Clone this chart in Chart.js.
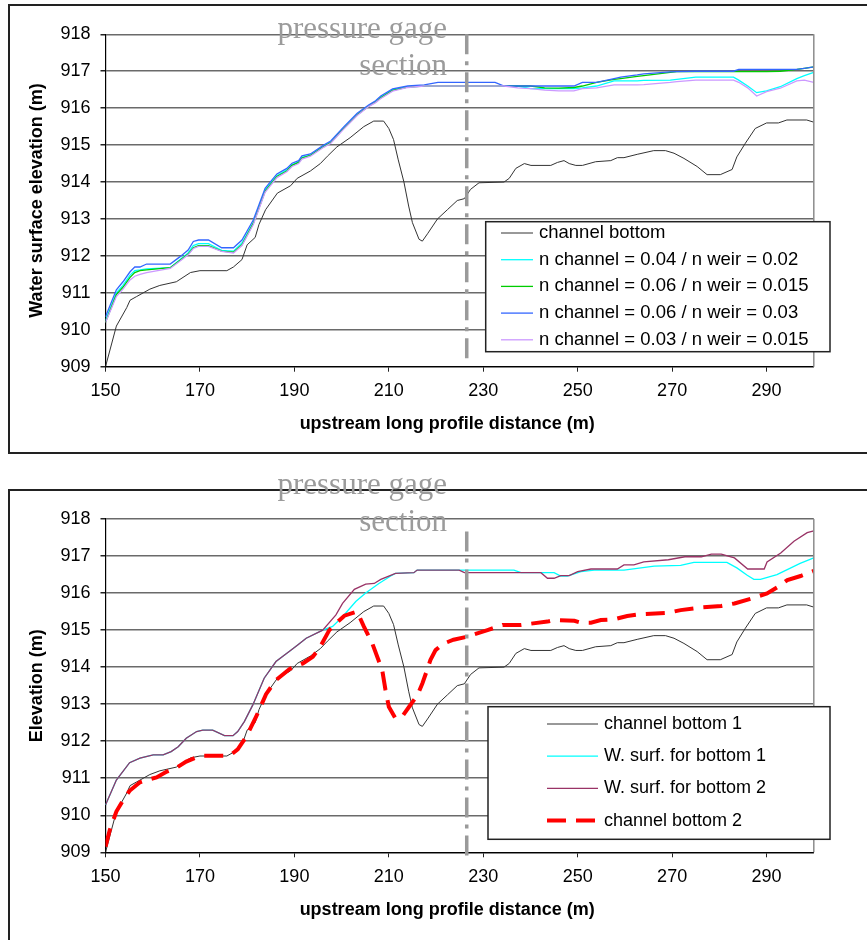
<!DOCTYPE html>
<html>
<head>
  <meta charset="UTF-8">
  <title>Water surface and channel bottom profiles</title>
  <script src="https://cdn.jsdelivr.net/npm/chart.js"></script>
  <style>
    html, body { margin: 0; padding: 0; background: #fff; overflow: hidden; }
    body { width: 867px; height: 940px; position: relative; }
    .frame { position: absolute; left: 8px; width: 900px; border: 2px solid #222; box-sizing: border-box; }
    #frameTop { top: 4px; height: 450px; }
    #frameBottom { top: 489px; height: 500px; }
    canvas { position: absolute; left: 0; }
    #topChart { top: 0; width: 867px; height: 460px; }
    #bottomChart { top: 460px; width: 867px; height: 480px; }
  </style>
</head>
<body>
  <div class="frame" id="frameTop"></div>
  <div class="frame" id="frameBottom"></div>
  <canvas id="topChart" width="867" height="460"></canvas>
  <canvas id="bottomChart" width="867" height="480"></canvas>

  <script>
    // ---- values (distance in m, elevation in m) ----
    const xTicks = [150, 170, 190, 210, 230, 250, 270, 290];
    const gageX = 226.5;
    const gageSpanTop = [918, 909.18];
    const gageSpanBottom = [917.66, 908.87];

    // channel bottom (same profile in both panels)
    const bedX = [150, 152.3, 154.5, 155.2, 156.6, 159.4, 161.5, 165, 168, 170, 175.7, 177.1, 178.9, 180, 181.7, 182.5, 183.9, 186.4, 189.2, 190.6,
      193.4, 195.5, 197, 199, 201.8, 204.7, 206.8, 208.9, 210, 211, 212, 213.2, 214.2, 215, 216.4, 217.1, 218.2, 220.3, 222.4, 224.5,
      226, 227.3, 229.1, 234.4, 235.5, 236.9, 238.7, 240.1, 244.3, 245.7, 247.1, 248.2, 249.6, 251, 253.8, 257, 258.4, 259.8, 262.6, 266.1,
      268.6, 270.4, 272.5, 275.3, 277.4, 280.2, 282.7, 283.7, 285.5, 287.6, 290, 292.5, 294.3, 298.5, 300];
    const bedY = [909.0, 910.1, 910.6, 910.8, 910.9, 911.1, 911.2, 911.3, 911.55, 911.6, 911.6, 911.7, 911.9, 912.3, 912.5, 912.85, 913.25, 913.7, 913.9, 914.1,
      914.3, 914.5, 914.7, 914.95, 915.2, 915.5, 915.65, 915.65, 915.45, 915.15, 914.6, 914.0, 913.35, 912.9, 912.45, 912.4, 912.6, 913.0, 913.25, 913.5,
      913.55, 913.8, 913.98, 914.0, 914.1, 914.37, 914.5, 914.45, 914.45, 914.53, 914.58, 914.5, 914.45, 914.45, 914.55, 914.58, 914.66, 914.66, 914.75, 914.85,
      914.85, 914.78, 914.64, 914.42, 914.2, 914.2, 914.34, 914.68, 915.05, 915.45, 915.6, 915.6, 915.68, 915.68, 915.62];

    // top panel: water surfaces for different roughness values
    const nX = [150, 152.3, 153.7, 155.2, 156.2, 157.3, 158.7, 163.7, 165.8, 167.5, 168.6, 169.7, 171.8, 174.6, 177.1, 178.9, 181.3, 183.8, 186.3, 188.4,
      189.5, 190.9, 191.6, 193.4, 196.2, 197.7, 200.5, 203.3, 205.8, 207.2, 208.3, 210.8, 214, 217.5, 220.4, 224.6, 230, 232.5, 234.4, 237.3,
      240, 243, 246, 249.2, 251, 254, 257.7, 259.1, 262.6, 264, 269.6, 271, 275, 281, 283, 284.1, 286, 287.9, 290, 292.9,
      296.4, 298, 300];
    const n04w02 = [910.25, 911.0, 911.2, 911.48, 911.6, 911.62, 911.65, 911.68, 911.9, 912.08, 912.28, 912.33, 912.33, 912.15, 912.13, 912.35, 912.9, 913.78, 914.17, 914.33,
      914.47, 914.55, 914.67, 914.73, 914.97, 915.08, 915.47, 915.83, 916.07, 916.18, 916.3, 916.5, 916.58, 916.6, 916.6, 916.6, 916.6, 916.6, 916.6, 916.6,
      916.53, 916.53, 916.53, 916.53, 916.55, 916.6, 916.74, 916.74, 916.74, 916.75, 916.76, 916.78, 916.84, 916.84, 916.84, 916.76, 916.6, 916.42, 916.47, 916.58,
      916.8, 916.88, 916.97];
    const n06w015 = [910.2, 910.95, 911.15, 911.42, 911.55, 911.6, 911.62, 911.68, 911.88, 912.05, 912.22, 912.28, 912.28, 912.13, 912.1, 912.3, 912.88, 913.75, 914.15, 914.3,
      914.45, 914.53, 914.65, 914.72, 914.96, 915.07, 915.46, 915.82, 916.06, 916.17, 916.28, 916.48, 916.57, 916.6, 916.6, 916.6, 916.6, 916.6, 916.6, 916.6,
      916.6, 916.55, 916.54, 916.56, 916.6, 916.7, 916.78, 916.8, 916.86, 916.88, 916.97, 916.99, 916.99, 916.99, 916.99, 916.99, 916.99, 916.99, 916.99, 917.0,
      917.05, 917.08, 917.12];
    const n06w03 = [910.35, 911.08, 911.3, 911.57, 911.7, 911.7, 911.78, 911.78, 911.98, 912.16, 912.39, 912.43, 912.43, 912.22, 912.22, 912.43, 912.97, 913.83, 914.22, 914.37,
      914.51, 914.58, 914.71, 914.76, 915.0, 915.11, 915.5, 915.86, 916.09, 916.2, 916.33, 916.52, 916.6, 916.63, 916.7, 916.7, 916.7, 916.7, 916.6, 916.6,
      916.6, 916.6, 916.6, 916.6, 916.7, 916.7, 916.8, 916.84, 916.9, 916.93, 916.98, 916.99, 917.0, 917.0, 917.0, 917.05, 917.05, 917.05, 917.05, 917.05,
      917.05, 917.08, 917.12];
    const n03w015 = [910.2, 910.9, 911.1, 911.35, 911.45, 911.5, 911.55, 911.66, 911.86, 912.03, 912.2, 912.26, 912.26, 912.12, 912.08, 912.28, 912.85, 913.72, 914.12, 914.28,
      914.42, 914.5, 914.62, 914.7, 914.94, 915.05, 915.44, 915.8, 916.05, 916.15, 916.26, 916.46, 916.56, 916.6, 916.6, 916.6, 916.6, 916.6, 916.6, 916.55,
      916.53, 916.49, 916.47, 916.47, 916.53, 916.55, 916.63, 916.63, 916.63, 916.64, 916.7, 916.72, 916.76, 916.76, 916.76, 916.7, 916.55, 916.33, 916.45, 916.54,
      916.74, 916.76, 916.7];

    // bottom panel: water surface for bottom 1
    const surf1X = [150, 152.3, 155.1, 157.3, 160.1, 162.2, 163.9, 165.4, 167.1, 169.3, 170.6, 172.7, 175.2, 177, 178, 179.4, 181.2, 183.6, 186.1, 188.9,
      190.7, 192.5, 196, 198.1, 200.2, 203, 205.1, 207.9, 210.4, 211.4, 215.3, 216, 224.9, 236.5, 238, 245, 246.4, 247.8, 250.7, 253.5,
      259.8, 266.2, 271.8, 274.6, 281.6, 283.7, 285.9, 287.3, 288.7, 292.2, 297.1, 300];
    const surf1Y = [910.28, 910.95, 911.42, 911.54, 911.63, 911.63, 911.72, 911.85, 912.08, 912.26, 912.3, 912.3, 912.15, 912.15, 912.26, 912.53, 912.98, 913.7, 914.15, 914.42,
      914.6, 914.78, 915.0, 915.1, 915.36, 915.77, 916.0, 916.26, 916.46, 916.53, 916.55, 916.62, 916.62, 916.62, 916.55, 916.55, 916.46, 916.46, 916.58, 916.62,
      916.62, 916.73, 916.75, 916.83, 916.83, 916.68, 916.48, 916.37, 916.37, 916.5, 916.8, 916.95];

    // bottom panel: water surface for bottom 2
    const surf2X = [150, 152.3, 155.1, 157.3, 160.1, 162.2, 163.9, 165.4, 167.1, 169.3, 170.6, 172.7, 175.2, 177, 178, 179.4, 181.2, 183.6, 186.1, 188.9,
      190.7, 192.5, 196, 198.8, 200.2, 202.7, 205.1, 206.9, 208.3, 210, 211.4, 215.3, 216, 224.9, 226, 242.2, 243.6, 245, 246.4, 248.2,
      250, 252.8, 258.4, 259.8, 261.9, 264, 269.2, 272.7, 276.2, 278.3, 280.4, 283.2, 286, 289.5, 290.1, 293, 295.8, 298.6, 300];
    const surf2Y = [910.28, 910.95, 911.42, 911.54, 911.63, 911.63, 911.72, 911.85, 912.08, 912.26, 912.3, 912.3, 912.15, 912.15, 912.26, 912.53, 912.98, 913.7, 914.15, 914.42,
      914.6, 914.78, 915.0, 915.41, 915.72, 916.1, 916.24, 916.26, 916.37, 916.46, 916.53, 916.55, 916.62, 916.62, 916.55, 916.55, 916.4, 916.4, 916.47, 916.47,
      916.58, 916.65, 916.65, 916.76, 916.76, 916.84, 916.9, 916.98, 916.98, 917.05, 917.05, 916.95, 916.65, 916.65, 916.84, 917.08, 917.4, 917.63, 917.68];

    // bottom panel: channel bottom 2
    const bed2X = [150, 150.9, 152.3, 153.7, 155.1, 157.3, 158.7, 160.8, 163, 165.1, 167.1, 169.2, 170.6, 176.3, 178, 179.8, 181.9, 184, 186.1, 189,
      191.8, 193.9, 195.3, 197.4, 198.8, 200.6, 203.3, 204.7, 206.5, 208.6, 209.3, 210, 211.4, 212.8, 214.3, 216.1, 217.1, 218.1, 218.8, 219.9,
      221.5, 223.7, 226.5, 230.9, 234.1, 238, 243.6, 245, 249.3, 250.7, 252.8, 254.9, 257.7, 260.5, 263.3, 269.2, 271.8, 276.1, 280.4, 283.2,
      286.7, 290.1, 292.2, 294.4, 297.2, 300];
    const bed2Y = [909.15, 909.6, 910.1, 910.4, 910.66, 910.89, 910.95, 911.02, 911.18, 911.29, 911.45, 911.56, 911.61, 911.61, 911.78, 912.12, 912.66, 913.27, 913.65, 913.95,
      914.1, 914.28, 914.51, 915.0, 915.18, 915.39, 915.5, 915.1, 914.64, 913.92, 913.38, 912.93, 912.62, 912.66, 912.93, 913.25, 913.56, 913.92, 914.19, 914.46,
      914.63, 914.74, 914.82, 915.0, 915.14, 915.14, 915.23, 915.27, 915.25, 915.2, 915.2, 915.27, 915.29, 915.38, 915.43, 915.47, 915.54, 915.61, 915.65, 915.72,
      915.85, 915.99, 916.15, 916.35, 916.46, 916.6];

    const pts = (xs, ys) => xs.map((x, i) => ({ x: x, y: ys[i] }));

    const FONT = 'Liberation Sans';
    // trailing spaces nudge the centred title a little to the left, as in the original
    const X_TITLE = 'upstream long profile distance (m)\u00a0\u00a0\u00a0\u00a0\u00a0';

    // draws the plot's right edge, the "pressure gage section" note and the boxed legend
    const notesPlugin = {
      id: 'notes',
      afterDatasetsDraw(chart) {
        const a = chart.chartArea, ctx = chart.ctx;
        ctx.save();
        ctx.strokeStyle = '#8c8c8c';
        ctx.lineWidth = 1.5;
        ctx.beginPath();
        ctx.moveTo(a.right, a.top);
        ctx.lineTo(a.right, a.bottom);
        ctx.stroke();
        ctx.restore();
      },
      afterDraw(chart, args, o) {
        const ctx = chart.ctx;
        ctx.save();
        ctx.font = '31px "Liberation Serif"';
        ctx.fillStyle = '#9b9b9b';
        ctx.textAlign = 'right';
        ctx.textBaseline = 'alphabetic';
        o.note.lines.forEach((t, i) => ctx.fillText(t, o.note.x, o.note.y + i * o.note.step));

        const L = o.legend;
        ctx.fillStyle = '#fff';
        ctx.fillRect(L.left, L.top, L.right - L.left, L.bottom - L.top);
        ctx.strokeStyle = '#222';
        ctx.lineWidth = 1.5;
        ctx.strokeRect(L.left, L.top, L.right - L.left, L.bottom - L.top);
        L.items.forEach((di, k) => {
          const ds = chart.data.datasets[di];
          const y = L.firstRow + k * L.rowStep;
          ctx.strokeStyle = ds.borderColor;
          ctx.lineWidth = ds.borderWidth;
          ctx.setLineDash(ds.borderDash || []);
          ctx.beginPath();
          ctx.moveTo(L.lineFrom, y);
          ctx.lineTo(L.lineTo, y);
          ctx.stroke();
          ctx.setLineDash([]);
          ctx.fillStyle = '#000';
          ctx.font = L.fontSize + 'px "' + FONT + '"';
          ctx.textAlign = 'left';
          ctx.textBaseline = 'middle';
          ctx.fillText(ds.label, L.textX, y);
        });
        ctx.restore();
      }
    };

    function line(label, data, color, width, order, extra) {
      return Object.assign({
        label: label, data: data, borderColor: color, backgroundColor: color,
        borderWidth: width, pointRadius: 0, fill: false, tension: 0, order: order
      }, extra || {});
    }

    function scales(yTitle, yAxisWidth, xAxisHeight, xTitlePad) {
      return {
        x: {
          type: 'linear', min: 150, max: 300,
          afterBuildTicks: s => { s.ticks = xTicks.map(v => ({ value: v })); },
          afterFit: s => { s.height = xAxisHeight; },
          grid: { drawOnChartArea: false, drawTicks: true, tickLength: 5, tickColor: '#222' },
          border: { color: '#000', width: 1.2 },
          ticks: { color: '#000', padding: 9, maxRotation: 0, autoSkip: false, font: { family: FONT, size: 18 } },
          title: { display: true, text: X_TITLE, color: '#000',
                   font: { family: FONT, size: 18, weight: 'bold' }, padding: { top: 0, bottom: xTitlePad } }
        },
        y: {
          min: 909, max: 918,
          afterFit: s => { s.width = yAxisWidth; },
          grid: { color: '#6a6a6a', lineWidth: 1.5, tickLength: 5, tickColor: '#222' },
          border: { color: '#000', width: 1.2 },
          ticks: { stepSize: 1, color: '#000', padding: 10, font: { family: FONT, size: 18 } },
          title: { display: true, text: yTitle, color: '#000',
                   font: { family: FONT, size: 18, weight: 'bold' }, padding: { top: 26.5, bottom: 0 } }
        }
      };
    }

    const gageStyle = { borderDash: [20, 7, 4, 7], clip: false };

    new Chart(document.getElementById('topChart'), {
      type: 'line',
      data: {
        datasets: [
          line('channel bottom', pts(bedX, bedY), '#333333', 1, 5),
          line('n channel = 0.04 / n weir = 0.02', pts(nX, n04w02), '#00ffff', 1.3, 4),
          line('n channel = 0.06 / n weir = 0.015', pts(nX, n06w015), '#00cc00', 1.3, 3),
          line('n channel = 0.06 / n weir = 0.03', pts(nX, n06w03), '#3366ff', 1.3, 2),
          line('n channel = 0.03 / n weir = 0.015', pts(nX, n03w015), '#cc99ff', 1.3, 1),
          line('gage', [{ x: gageX, y: gageSpanTop[0] }, { x: gageX, y: gageSpanTop[1] }], '#9a9a9a', 3.5, 0, gageStyle)
        ]
      },
      options: {
        animation: false, responsive: false, devicePixelRatio: 1,
        layout: { padding: { left: 0, top: 34.3, right: 53.2, bottom: 0 } },
        scales: scales('Water surface elevation (m)', 105.5, 93.3, 25),
        plugins: {
          legend: { display: false },
          tooltip: { enabled: false },
          notes: {
            note: { lines: ['pressure gage', 'section'], x: 447, y: 38, step: 37 },
            legend: { left: 485.7, top: 221.7, right: 830, bottom: 351.7, items: [0, 1, 2, 3, 4], fontSize: 18.5,
                      firstRow: 233, rowStep: 26.7, lineFrom: 501, lineTo: 533, textX: 539 }
          }
        }
      },
      plugins: [notesPlugin]
    });

    new Chart(document.getElementById('bottomChart'), {
      type: 'line',
      data: {
        datasets: [
          line('channel bottom 1', pts(bedX, bedY), '#333333', 1, 4),
          line('W. surf. for bottom 1', pts(surf1X, surf1Y), '#00ffff', 1.3, 3),
          line('W. surf. for bottom 2', pts(surf2X, surf2Y), '#993366', 1.3, 2),
          line('channel bottom 2', pts(bed2X, bed2Y), '#ff0000', 4, 1, { borderDash: [19, 10] }),
          line('gage', [{ x: gageX, y: gageSpanBottom[0] }, { x: gageX, y: gageSpanBottom[1] }], '#9a9a9a', 3.5, 0, gageStyle)
        ]
      },
      options: {
        animation: false, responsive: false, devicePixelRatio: 1,
        layout: { padding: { left: 0, top: 59, right: 53.2, bottom: 0 } },
        scales: scales('Elevation (m)', 105.5, 87.7, 19),
        plugins: {
          legend: { display: false },
          tooltip: { enabled: false },
          notes: {
            note: { lines: ['pressure gage', 'section'], x: 447, y: 34, step: 36.5 },
            legend: { left: 488, top: 246.7, right: 830, bottom: 379.3, items: [0, 1, 2, 3], fontSize: 18,
                      firstRow: 264, rowStep: 32.2, lineFrom: 547, lineTo: 598, textX: 604 }
          }
        }
      },
      plugins: [notesPlugin]
    });
  </script>
</body>
</html>
